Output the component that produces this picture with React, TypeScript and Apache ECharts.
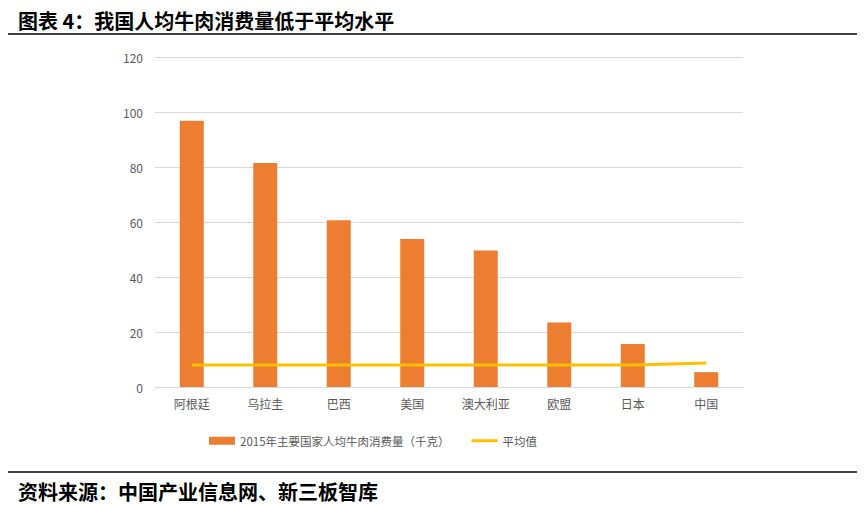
import React, { useEffect, useRef } from "react";
import * as echarts from "echarts";

const categories = ["阿根廷", "乌拉圭", "巴西", "美国", "澳大利亚", "欧盟", "日本", "中国"];
const consumption = [96.8, 81.5, 60.6, 53.8, 49.6, 23.5, 15.6, 5.4];
const average = [8.0, 8.0, 8.0, 8.0, 8.0, 8.0, 8.0, 8.7];
const barName = "2015年主要国家人均牛肉消费量（千克）";
const lineName = "平均值";
const titleText = "图表 4：我国人均牛肉消费量低于平均水平";
const sourceText = "资料来源：中国产业信息网、新三板智库";

export default function App() {
  const ref = useRef<HTMLDivElement>(null);
  useEffect(() => {
    if (!ref.current) return;
    const chart = echarts.init(ref.current, undefined, { renderer: "svg" });
    const font = "'Noto Sans CJK SC', 'Noto Sans', sans-serif";
    chart.setOption({
      animation: false,
      backgroundColor: "#ffffff",
      textStyle: { fontFamily: font },
      title: [
        {
          text: titleText,
          left: 13,
          top: 5,
          textStyle: { fontSize: 20, fontWeight: "bold", color: "#000", fontFamily: font },
        },
        {
          text: sourceText,
          left: 13,
          top: 476,
          textStyle: { fontSize: 20, fontWeight: "bold", color: "#000", fontFamily: font },
        },
      ],
      graphic: [
        { type: "line", shape: { x1: 8, y1: 34, x2: 857, y2: 34 }, style: { stroke: "#000", lineWidth: 1.5 } },
        { type: "line", shape: { x1: 8, y1: 472, x2: 857, y2: 472 }, style: { stroke: "#000", lineWidth: 1.5 } },
      ],
      grid: { left: 155, right: 122, top: 57, bottom: 118, containLabel: false },
      legend: {
        left: 204,
        top: 430,
        itemWidth: 26,
        itemHeight: 8,
        itemGap: 22,
        textStyle: { fontSize: 11.5, color: "#595959", fontFamily: font },
        data: [
          { name: barName, icon: "rect" },
          { name: lineName, icon: "path://M0,2.5H26V5.5H0Z M0,0H0.01V8H0Z" },
        ],
      },
      xAxis: {
        type: "category",
        data: categories,
        axisLine: { show: true, lineStyle: { color: "#d9d9d9", width: 1 } },
        axisTick: { show: false },
        axisLabel: { color: "#595959", fontSize: 12, margin: 10, fontFamily: font },
      },
      yAxis: {
        type: "value",
        min: 0,
        max: 120,
        interval: 20,
        axisLine: { show: false },
        axisTick: { show: false },
        axisLabel: { color: "#595959", fontSize: 12, margin: 12, fontFamily: font },
        splitLine: { lineStyle: { color: "#d9d9d9", width: 1 } },
      },
      series: [
        {
          name: barName,
          type: "bar",
          data: consumption,
          barWidth: 24,
          itemStyle: { color: "#ED7D31" },
        },
        {
          name: lineName,
          type: "line",
          data: average,
          symbol: "none",
          lineStyle: { color: "#FFC000", width: 3 },
          itemStyle: { color: "#FFC000" },
        },
      ],
    });
    return () => chart.dispose();
  }, []);
  return (
    <div
      ref={ref}
      style={{ position: "fixed", left: 0, top: 0, width: 865, height: 505 }}
    />
  );
}
